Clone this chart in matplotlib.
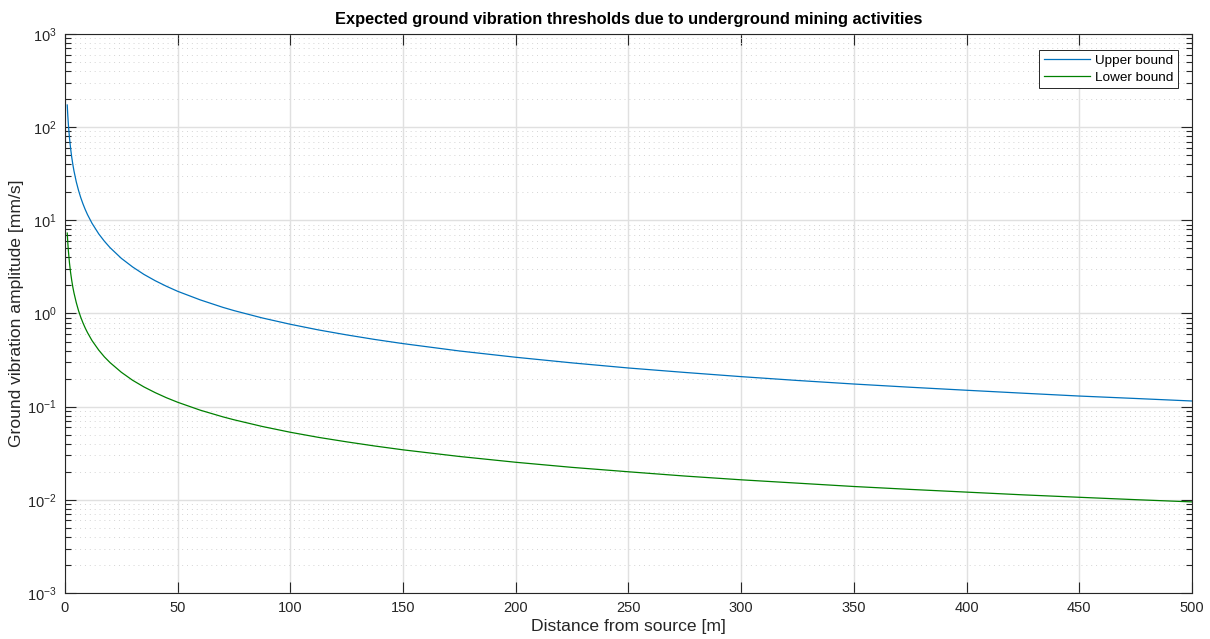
import matplotlib
matplotlib.use('Agg')
import matplotlib.pyplot as plt
from matplotlib.ticker import LogLocator, NullFormatter, MultipleLocator

plt.rcParams['font.family'] = ['Liberation Sans', 'DejaVu Sans']
plt.rcParams['mathtext.default'] = 'regular'

# distance from the source [m]
distance = [1, 1.25, 1.5, 2, 2.5, 3, 3.5, 4, 5, 6, 7, 8, 9, 10, 12, 15, 17.5, 20, 25,
            30, 35, 40, 45, 50, 60, 70, 75, 87.5, 100, 112.5, 125, 137.5, 150, 175,
            200, 225, 250, 275, 300, 325, 350, 375, 400, 425, 450, 475, 500]
# expected amplitude, upper bound [mm/s]
upper = [173, 133.0, 107.3, 76.5, 58.8, 47.5, 39.6, 33.8, 26.0, 21.0, 17.5, 14.97,
         13.03, 11.51, 9.29, 7.14, 5.96, 5.09, 3.91, 3.16, 2.63, 2.25, 1.96, 1.73,
         1.40, 1.165, 1.074, 0.896, 0.766, 0.666, 0.589, 0.526, 0.475, 0.396, 0.339,
         0.295, 0.260, 0.233, 0.210, 0.191, 0.175, 0.1616, 0.150, 0.1395, 0.130,
         0.1224, 0.115]
# expected amplitude, lower bound [mm/s]
lower = [7.3, 5.75, 4.73, 3.48, 2.74, 2.26, 1.91, 1.66, 1.31, 1.075, 0.912, 0.791,
         0.697, 0.623, 0.512, 0.404, 0.342, 0.297, 0.234, 0.192, 0.163, 0.1415,
         0.1247, 0.1115, 0.0917, 0.0778, 0.0723, 0.0613, 0.0531, 0.0468, 0.0419,
         0.0378, 0.0344, 0.0292, 0.0253, 0.0223, 0.0200, 0.0180, 0.0164, 0.0151,
         0.0139, 0.01294, 0.0121, 0.01131, 0.01065, 0.01004, 0.0095]

fig = plt.figure(figsize=(12.1, 6.39), dpi=100)
ax = fig.add_axes([0.0537, 0.072, 0.9314, 0.8748])

ax.plot(distance, upper, color='#0072BD', lw=0.9, label='Upper bound')
ax.plot(distance, lower, color='#008000', lw=0.9, label='Lower bound')

ax.set_yscale('log')
ax.set_xlim(0, 500)
ax.set_ylim(1e-3, 1e3)
ax.xaxis.set_major_locator(MultipleLocator(50))
ax.yaxis.set_major_locator(LogLocator(base=10, numticks=10))
ax.yaxis.set_minor_locator(LogLocator(base=10, subs=range(2, 10), numticks=100))
ax.yaxis.set_minor_formatter(NullFormatter())

# grid: solid major lines, dotted minor lines on y
ax.grid(True, which='major', color='#e0e0e0', lw=1.0, ls='-')
ax.grid(True, which='minor', axis='y', color='#d4d4d4', lw=0.7, ls=(0, (1, 4)))
ax.set_axisbelow(True)

ax.tick_params(which='both', direction='in', top=True, right=True,
               colors='#262626', labelcolor='#262626', labelsize=10.5)
ax.tick_params(which='major', length=8, width=0.8, pad=6)
ax.tick_params(which='minor', length=4.3, width=0.8)
for s in ax.spines.values():
    s.set_color('#262626')
    s.set_linewidth(0.8)

ax.set_title('Expected ground vibration thresholds due to underground mining activities',
             fontsize=11.8, fontweight='bold', pad=7)
ax.set_xlabel('Distance from source [m]', fontsize=12.6, color='#262626', labelpad=3)
ax.set_ylabel('Ground vibration amplitude [mm/s]', fontsize=12.6, color='#262626', labelpad=2)

leg = ax.legend(loc='upper right', bbox_to_anchor=(0.9876, 0.9714), fontsize=9.7,
                fancybox=False, framealpha=1, edgecolor='#262626',
                handlelength=3.4, handletextpad=0.4, borderaxespad=0,
                borderpad=0.35, labelspacing=0.3)
leg.get_frame().set_linewidth(0.7)

fig.savefig('out.png', dpi=100)
